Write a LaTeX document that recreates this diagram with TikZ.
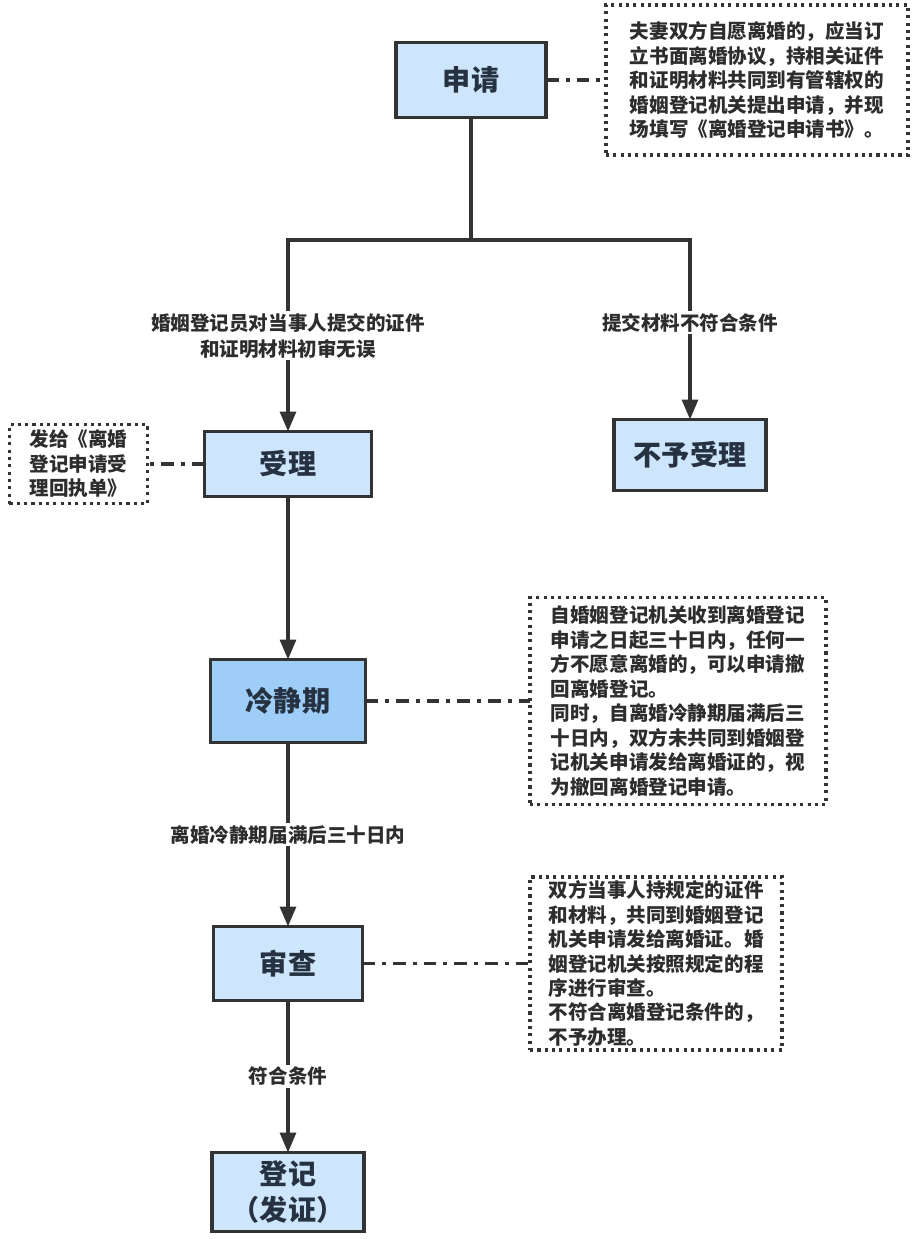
\documentclass[tikz,border=0pt]{standalone}
\usepackage{fontspec}
\setmainfont{Noto Sans CJK SC}
\usetikzlibrary{arrows.meta,positioning}
\definecolor{boxblue}{RGB}{205,230,251}
\definecolor{coolblue}{RGB}{158,205,247}
\definecolor{linegray}{RGB}{51,51,51}
\definecolor{textgray}{RGB}{45,45,45}
\definecolor{boxtext}{RGB}{38,50,66}

\begin{document}
\begin{tikzpicture}[
  box/.style={draw=linegray,line width=2.3pt,fill=boxblue,align=center,inner sep=0pt,outer sep=0pt,
    font=\fontsize{20}{25}\selectfont\bfseries,text=boxtext},
  note/.style={draw=linegray,line width=2.3pt,dash pattern=on 2.2pt off 3pt,align=left,inner sep=0pt,outer sep=0pt,
    font=\fontsize{13.9}{17.4}\selectfont\bfseries,text=textgray},
  lbl/.style={fill=white,inner sep=1.5pt,align=center,font=\fontsize{13.9}{18.5}\selectfont\bfseries,text=textgray},
  line/.style={line width=2.3pt,draw=linegray},
  arr/.style={line,-{Triangle[length=0.5cm,width=0.4cm]}},
  link/.style={line,dash pattern=on 9pt off 5pt on 2.8pt off 5pt}
]
\useasboundingbox (0,0) rectangle (23.1,-30.975);
% main column
\node[box,minimum width=3.75cm,minimum height=1.875cm] (apply) at (11.775,-2.0) {申请};
\coordinate (split) at (11.775,-6.0);
\node[box,minimum width=4.175cm,minimum height=1.625cm] (accept) at (7.2,-11.6) {受理};
\node[box,minimum width=3.8cm,minimum height=1.775cm] (reject) at (17.25,-11.375) {不予受理};
\node[box,fill=coolblue,minimum width=3.875cm,minimum height=2.075cm,below=4.075cm of accept] (cool) {冷静期};
\node[box,minimum width=3.725cm,minimum height=1.85cm,below=4.6cm of cool] (review) {审查};
\node[box,minimum width=3.8cm,minimum height=1.975cm,below=3.8cm of review] (register) {登记\\（发证）};
% notes
\node[note,minimum width=7.55cm,minimum height=3.75cm,right=1.5cm of apply] (applynote)
  {夫妻双方自愿离婚的，应当订\\立书面离婚协议，持相关证件\\和证明材料共同到有管辖权的\\婚姻登记机关提出申请，并现\\场填写《离婚登记申请书》。};
\node[note,minimum width=3.45cm,minimum height=1.975cm,left=1.425cm of accept] (acceptnote)
  {发给《离婚\\登记申请受\\理回执单》};
\node[note,minimum width=7.4cm,minimum height=5.175cm,right=4.11cm of cool] (coolnote)
  {自婚姻登记机关收到离婚登记\\申请之日起三十日内，任何一\\方不愿意离婚的，可以申请撤\\回离婚登记。\\同时，自离婚冷静期届满后三\\十日内，双方未共同到婚姻登\\记机关申请发给离婚证的，视\\为撤回离婚登记申请。};
\node[note,minimum width=6.3cm,minimum height=4.325cm,right=4.19cm of review] (reviewnote)
  {双方当事人持规定的证件\\和材料，共同到婚姻登记\\机关申请发给离婚证。婚\\姻登记机关按照规定的程\\序进行审查。\\不符合离婚登记条件的，\\不予办理。};
% connectors
\draw[line] (apply) -- (split);
\draw[arr] (split) -| node[lbl,pos=0.75] {婚姻登记员对当事人提交的证件\\和证明材料初审无误} (accept.north);
\draw[arr] (split) -| node[lbl,pos=0.73] {提交材料不符合条件} (reject.north);
\draw[arr] (accept) -- (cool);
\draw[arr] (cool) -- node[lbl] {离婚冷静期届满后三十日内} (review);
\draw[arr] (review) -- node[lbl] {符合条件} (register);
\draw[link] (apply) -- (applynote);
\draw[link] (accept) -- (acceptnote);
\draw[link] (cool) -- (coolnote);
\draw[link] (review) -- (reviewnote);
\end{tikzpicture}
\end{document}
